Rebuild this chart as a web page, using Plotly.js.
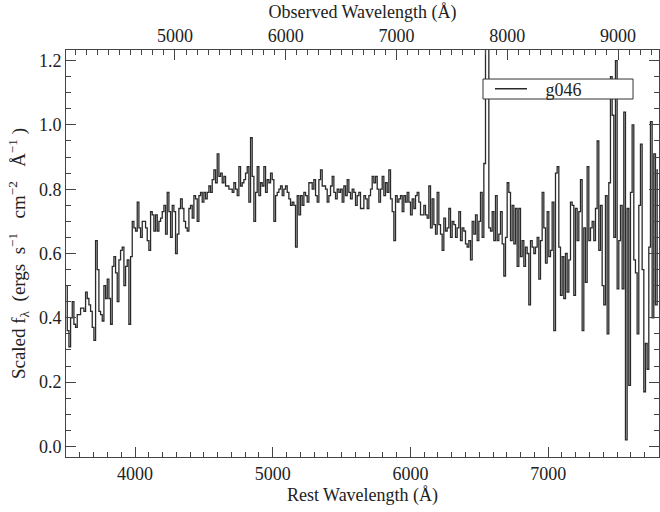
<!DOCTYPE html>
<html>
<head>
<meta charset="utf-8">
<script src="https://cdn.plot.ly/plotly-3.0.1.min.js"></script>
<style>html,body{margin:0;padding:0;background:#fff;}#chart{width:660px;height:512px;}</style>
</head>
<body>
<div id="chart"></div>
<script>
// Rest-frame wavelength grid (start, step in Angstrom)
const restStart = 3502;
const restStep = 12.1;
// Scaled flux, blue part (3500-4900 A)
const fluxBlue = [
0.50,0.36,0.31,0.40,0.45,0.38,0.37,0.41,0.41,0.43,0.43,0.42,0.48,0.46,0.44,0.42,0.37,0.33,0.64,0.55,
0.42,0.41,0.39,0.50,0.46,0.52,0.46,0.38,0.56,0.59,0.54,0.45,0.58,0.61,0.62,0.50,0.56,0.58,0.38,0.59,
0.70,0.68,0.67,0.76,0.68,0.65,0.70,0.70,0.68,0.64,0.61,0.73,0.72,0.67,0.72,0.67,0.70,0.71,0.73,0.75,
0.66,0.79,0.73,0.65,0.75,0.73,0.60,0.66,0.74,0.77,0.74,0.70,0.68,0.67,0.74,0.75,0.71,0.78,0.77,0.70,
0.78,0.79,0.76,0.79,0.77,0.79,0.81,0.79,0.83,0.86,0.82,0.91,0.84,0.85,0.82,0.84,0.81,0.81,0.80,0.80,
0.79,0.82,0.80,0.78,0.87,0.81,0.82,0.83,0.85,0.87,0.76,0.96,0.84,0.70,0.79,0.87
];
// Scaled flux, middle part (4900-6420 A)
const fluxMid = [
0.78,0.82,0.81,0.87,0.79,0.83,0.82,0.85,0.83,0.70,0.78,0.79,0.80,0.81,0.78,0.80,0.81,0.79,0.77,0.75,
0.76,0.75,0.62,0.78,0.72,0.78,0.75,0.79,0.78,0.76,0.82,0.82,0.80,0.83,0.78,0.76,0.83,0.86,0.81,0.81,
0.80,0.76,0.78,0.81,0.84,0.79,0.77,0.80,0.79,0.80,0.76,0.81,0.78,0.83,0.79,0.77,0.80,0.79,0.75,0.78,
0.79,0.74,0.74,0.78,0.77,0.74,0.78,0.80,0.84,0.82,0.84,0.80,0.76,0.80,0.84,0.78,0.82,0.79,0.86,0.77,
0.73,0.64,0.78,0.76,0.77,0.78,0.73,0.78,0.76,0.79,0.76,0.72,0.77,0.74,0.78,0.79,0.76,0.72,0.72,0.75,
0.72,0.71,0.81,0.68,0.77,0.69,0.66,0.79,0.69,0.66,0.61,0.71,0.67,0.68,0.74,0.65,0.70,0.69,0.65,0.68,
0.73,0.64,0.68,0.67,0.63,0.62
];
// Scaled flux, red part (6430-7800 A)
const fluxRed = [
0.64,0.58,0.70,0.66,0.72,0.64,0.70,0.79,0.65,0.88,1.60,1.60,0.68,0.67,0.73,0.64,0.78,0.64,0.66,0.73,
0.63,0.53,0.65,0.82,0.79,0.64,0.75,0.63,0.74,0.56,0.74,0.59,0.64,0.56,0.62,0.60,0.44,0.64,0.62,0.60,
0.62,0.65,0.52,0.64,0.79,0.68,0.57,0.73,0.59,0.61,0.76,0.36,0.85,0.87,0.62,0.47,0.59,0.46,0.60,0.48,
0.58,0.76,0.75,0.47,0.74,0.64,0.73,0.83,0.36,0.68,0.51,0.87,0.64,0.68,0.70,0.64,0.74,0.95,0.61,0.75,
0.50,0.44,0.78,0.35,0.82,1.15,1.03,0.65,1.20,0.49,0.64,0.75,0.49,1.04,0.02,0.74,0.19,0.79,1.00,0.58,
0.54,0.35,0.75,0.94,0.55,0.17,0.32,0.24,0.62,1.01,0.40,0.91,0.44,0.86
];
const flux = fluxBlue.concat(fluxMid, fluxRed);
const seriesName = 'g046';
// Axis ranges
const restRange = [3499, 7805];
const obsRange = [4016, 9370];
const yRange = [-0.033, 1.233];

const FAM = '"Liberation Serif", "Times New Roman", serif';
const tickFont = {family: FAM, size: 18, color: '#222'};
const titleFont = {family: FAM, size: 18, color: '#222'};
const NB = '\u00a0';
const sp = n => NB.repeat(n);

const traces = [
  {
    type: 'scatter', mode: 'lines', name: sp(3) + seriesName,
    x0: restStart, dx: restStep, y: flux,
    line: {shape: 'hvh', color: '#2a2a2a', width: 1.3},
    xaxis: 'x', yaxis: 'y', hoverinfo: 'skip'
  },
  {
    type: 'scatter', mode: 'lines', x: obsRange, y: [null, null],
    xaxis: 'x2', yaxis: 'y', showlegend: false, hoverinfo: 'skip'
  }
];

const axisCommon = {
  showgrid: false, zeroline: false, showline: true, linecolor: '#444', linewidth: 1,
  ticks: 'inside', ticklen: 10, tickcolor: '#444', tickwidth: 1,
  tickfont: tickFont
};

const yTitle = 'Scaled f<sub>λ</sub>' + sp(2) + '(ergs' + sp(2) + 's<sup>−1</sup>' + sp(3) +
  'cm<sup>−2</sup>' + sp(3) + 'Å<sup>−1</sup>' + sp(1) + ')';

const layout = {
  width: 660, height: 512,
  margin: {l: 66, r: 1, t: 50, b: 55, pad: 0, autoexpand: false},
  paper_bgcolor: '#fff', plot_bgcolor: '#fff',
  font: {family: FAM, size: 18, color: '#222'},
  showlegend: true,
  legend: {
    x: 0.715, y: 0.904, xanchor: 'left', yanchor: 'middle',
    bgcolor: 'rgba(0,0,0,0)', borderwidth: 0,
    font: {family: FAM, size: 18, color: '#222'},
    itemwidth: 32
  },
  shapes: [
    {type: 'rect', xref: 'paper', yref: 'paper', x0: 0.7032, x1: 0.9562, y0: 0.8796, y1: 0.9287,
     fillcolor: '#fff', line: {color: '#333', width: 1}, layer: 'above'}
  ],
  xaxis: Object.assign({}, axisCommon, {
    range: restRange, side: 'bottom', anchor: 'y',
    dtick: 1000, tick0: 0,
    minor: {dtick: 100, ticks: 'inside', ticklen: 5, tickcolor: '#444', showgrid: false},
    title: {text: 'Rest Wavelength (Å)', font: titleFont, standoff: 5}
  }),
  xaxis2: Object.assign({}, axisCommon, {
    range: obsRange, side: 'top', overlaying: 'x', anchor: 'y',
    dtick: 1000, tick0: 0,
    minor: {dtick: 100, ticks: 'inside', ticklen: 5, tickcolor: '#444', showgrid: false},
    title: {text: 'Observed Wavelength (Å)', font: titleFont, standoff: 2}
  }),
  yaxis: Object.assign({}, axisCommon, {
    range: yRange, mirror: 'ticks',
    dtick: 0.2, tick0: 0, tickformat: '.1f',
    minor: {dtick: 0.05, ticks: 'inside', ticklen: 5, tickcolor: '#444', showgrid: false},
    title: {text: yTitle, font: {family: FAM, size: 19, color: '#222'}, standoff: 8}
  })
};

Plotly.newPlot('chart', traces, layout, {staticPlot: true, displayModeBar: false});
</script>
</body>
</html>
